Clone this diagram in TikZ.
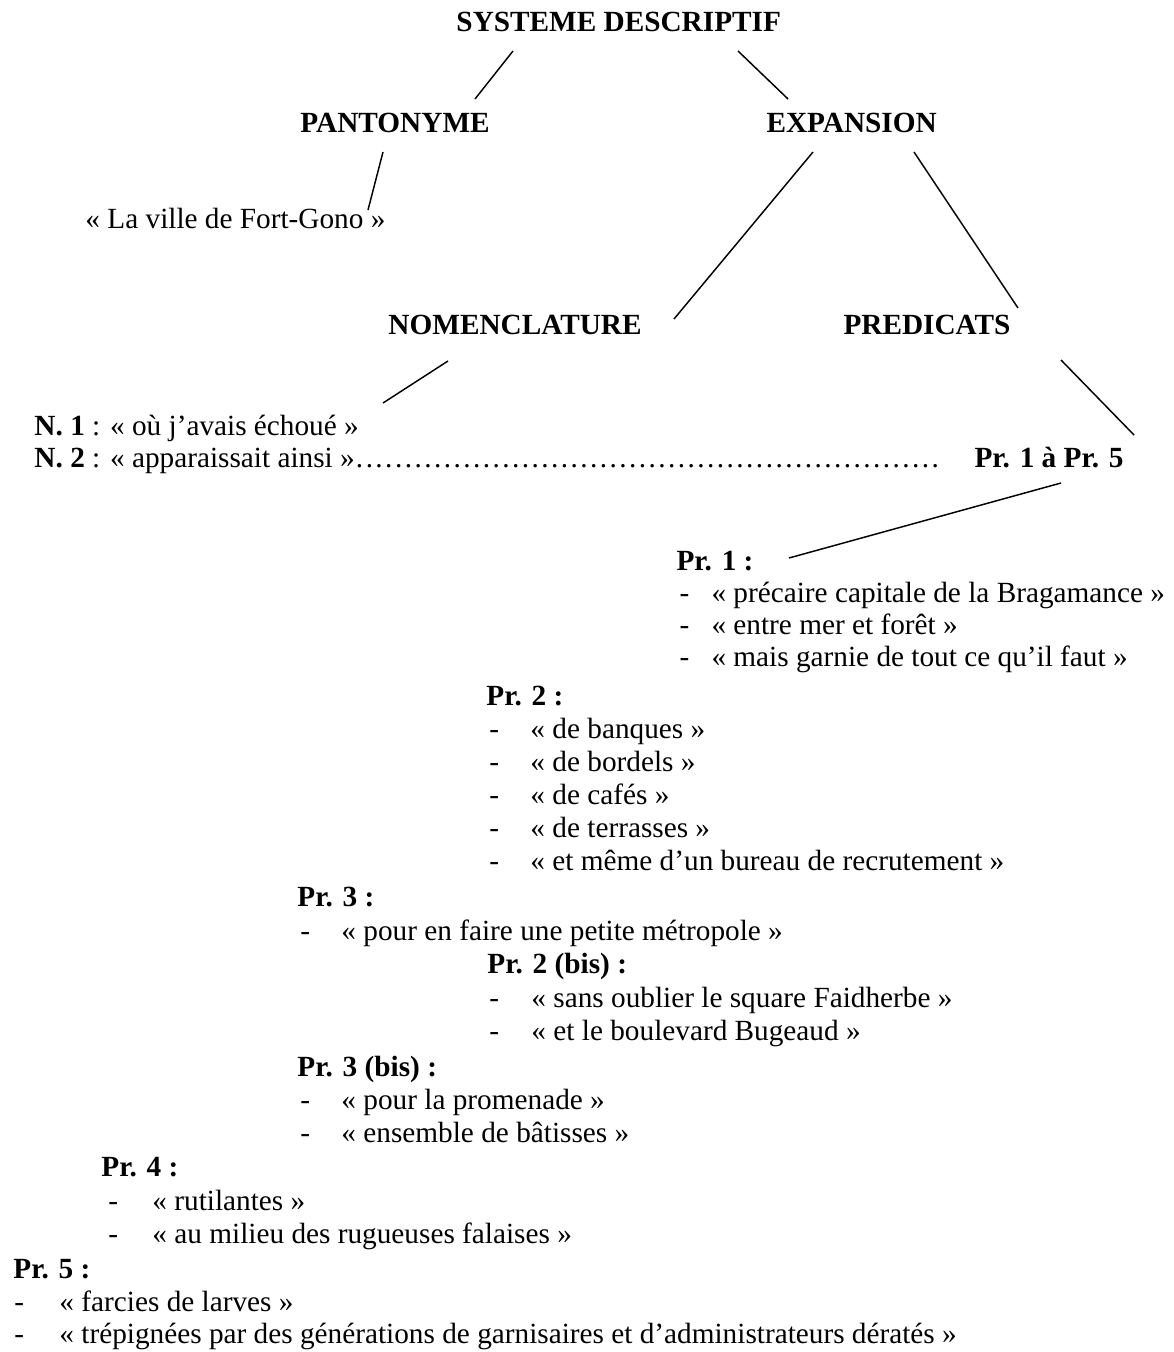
\documentclass[tikz,border=0pt]{standalone}
\usepackage{fontspec}
\setmainfont{Liberation Serif}
% dotted leader after "apparaissait ainsi"
\newcommand\leaderrun{\hbox to 240pt{\leaders\hbox to 4pt{\hss.\hss}\hfill}}
\begin{document}
\begin{tikzpicture}[x=0.41pt,y=-0.41pt,
  txt/.style={anchor=base west,inner sep=0pt,font=\fontsize{12}{14}\selectfont},
  head/.style={txt,font=\fontsize{12}{14}\selectfont\bfseries},
  link/.style={line width=0.6pt}]
\useasboundingbox (0,0) rectangle (1173,1352);

% --- tree headings
\node[head] (sd)   at (456,32)  {SYSTEME DESCRIPTIF};
\node[head] (pan)  at (300,133) {PANTONYME};
\node[head] (exp)  at (766,133) {EXPANSION};
\node[txt]  (vil)  at (85,229)  {« La ville de Fort-Gono »};
\node[head] (nom)  at (388,335) {NOMENCLATURE};
\node[head] (pred) at (843,335) {PREDICATS};
\node[txt]  (n1)   at (34,435)  {\textbf{N. 1} : « où j’avais échoué »};
\node[txt]  (n2)   at (34,468)  {\textbf{N. 2} : « apparaissait ainsi »\leaderrun};
\node[head] (pall) at (974,468) {Pr. 1 à Pr. 5};

% --- predicate groups
\node[head] (p1) at (676,570) {Pr. 1 :};
\node[txt] (p1ad) at (679,602) {-};  \node[txt] (p1a) at (711,602) {« précaire capitale de la Bragamance »};
\node[txt] (p1bd) at (679,634) {-};  \node[txt] (p1b) at (711,634) {« entre mer et forêt »};
\node[txt] (p1cd) at (679,666) {-};  \node[txt] (p1c) at (711,666) {« mais garnie de tout ce qu’il faut »};

\node[head] (p2) at (486,705) {Pr. 2 :};
\node[txt] (p2ad) at (489,738) {-};  \node[txt] (p2a) at (530,738) {« de banques »};
\node[txt] (p2bd) at (489,771) {-};  \node[txt] (p2b) at (530,771) {« de bordels »};
\node[txt] (p2cd) at (489,804) {-};  \node[txt] (p2c) at (530,804) {« de cafés »};
\node[txt] (p2dd) at (489,837) {-};  \node[txt] (p2d) at (530,837) {« de terrasses »};
\node[txt] (p2ed) at (489,870) {-};  \node[txt] (p2e) at (530,870) {« et même d’un bureau de recrutement »};

\node[head] (p3) at (297,906) {Pr. 3 :};
\node[txt] (p3ad) at (300,940) {-};  \node[txt] (p3a) at (341,940) {« pour en faire une petite métropole »};

\node[head] (p2b) at (487,973) {Pr. 2 (bis) :};
\node[txt] (p2bad) at (489,1007) {-};  \node[txt] (p2ba) at (531,1007) {« sans oublier le square Faidherbe »};
\node[txt] (p2bbd) at (489,1040) {-};  \node[txt] (p2bb) at (531,1040) {« et le boulevard Bugeaud »};

\node[head] (p3b) at (297,1076) {Pr. 3 (bis) :};
\node[txt] (p3bad) at (300,1109) {-};  \node[txt] (p3ba) at (341,1109) {« pour la promenade »};
\node[txt] (p3bbd) at (300,1142) {-};  \node[txt] (p3bb) at (341,1142) {« ensemble de bâtisses »};

\node[head] (p4) at (101,1176) {Pr. 4 :};
\node[txt] (p4ad) at (108,1210) {-};  \node[txt] (p4a) at (152,1210) {« rutilantes »};
\node[txt] (p4bd) at (108,1243) {-};  \node[txt] (p4b) at (152,1243) {« au milieu des rugueuses falaises »};

\node[head] (p5) at (13,1278) {Pr. 5 :};
\node[txt] (p5ad) at (14,1311) {-};  \node[txt] (p5a) at (59,1311) {« farcies de larves »};
\node[txt] (p5bd) at (14,1343) {-};  \node[txt] (p5b) at (59,1343) {« trépignées par des générations de garnisaires et d’administrateurs dératés »};

% --- end points of the tree branches
\coordinate (sd-l)   at (513,51);   \coordinate (pan-t)  at (475,99);
\coordinate (sd-r)   at (738,51);   \coordinate (exp-t)  at (788,99);
\coordinate (pan-b)  at (383,152);  \coordinate (vil-t)  at (368,210);
\coordinate (exp-l)  at (813,152);  \coordinate (nom-t)  at (674,319);
\coordinate (exp-r)  at (914,152);  \coordinate (pred-t) at (1018,308);
\coordinate (nom-b)  at (448,361);  \coordinate (n1-t)   at (383,403);
\coordinate (pred-b) at (1061,360); \coordinate (pall-t) at (1134,435);
\coordinate (pall-b) at (1061,483); \coordinate (p1-r)   at (789,558);

\draw[link] (sd-l) -- (pan-t);
\draw[link] (sd-r) -- (exp-t);
\draw[link] (pan-b) -- (vil-t);
\draw[link] (exp-l) -- (nom-t);
\draw[link] (exp-r) -- (pred-t);
\draw[link] (nom-b) -- (n1-t);
\draw[link] (pred-b) -- (pall-t);
\draw[link] (pall-b) -- (p1-r);
\end{tikzpicture}
\end{document}
